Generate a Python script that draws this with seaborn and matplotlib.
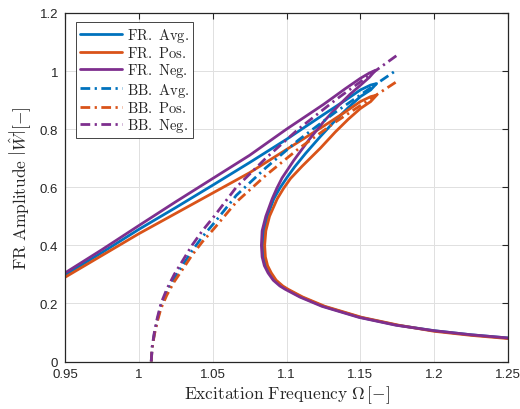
import numpy as np
import pandas as pd
import seaborn as sns
import matplotlib
matplotlib.use("Agg")
import matplotlib.pyplot as plt

# ---------------- data ----------------
# Frequency-response curves: upper branch -> peak -> inner arm -> turning point -> lower branch
fr_avg_x = [0.95, 0.975, 1.0, 1.025, 1.05, 1.075, 1.1, 1.125, 1.14, 1.15, 1.157, 1.161,
            1.157, 1.15, 1.142, 1.133, 1.123, 1.113, 1.1055, 1.1005, 1.0955, 1.0914, 1.087, 1.0848, 1.084,
            1.0845, 1.086, 1.0885, 1.092, 1.0965, 1.1, 1.11, 1.125, 1.15, 1.175, 1.2, 1.225, 1.25]
fr_avg_y = [0.298, 0.375, 0.455, 0.53, 0.607, 0.685, 0.765, 0.85, 0.9, 0.935, 0.952, 0.957,
            0.935, 0.912, 0.875, 0.83, 0.775, 0.717, 0.67, 0.635, 0.597, 0.56, 0.5, 0.45, 0.4,
            0.36, 0.33, 0.305, 0.28, 0.26, 0.249, 0.222, 0.19, 0.152, 0.125, 0.106, 0.092, 0.081]

fr_pos_x = [0.95, 0.975, 1.0, 1.025, 1.05, 1.075, 1.1, 1.125, 1.14, 1.15, 1.157, 1.161,
            1.157, 1.15, 1.142, 1.133, 1.123, 1.1105, 1.1027, 1.098, 1.0937, 1.0885, 1.086, 1.0852,
            1.0857, 1.0872, 1.0897, 1.093, 1.0975, 1.101, 1.111, 1.126, 1.151, 1.176, 1.2, 1.225, 1.25]
fr_pos_y = [0.29, 0.365, 0.44, 0.51, 0.58, 0.65, 0.73, 0.81, 0.86, 0.895, 0.912, 0.917,
            0.895, 0.871, 0.835, 0.79, 0.735, 0.672, 0.63, 0.596, 0.56, 0.5, 0.45, 0.4,
            0.36, 0.33, 0.305, 0.28, 0.26, 0.249, 0.222, 0.19, 0.152, 0.125, 0.104, 0.090, 0.079]

fr_neg_x = [0.95, 0.975, 1.0, 1.025, 1.05, 1.075, 1.1, 1.125, 1.14, 1.15, 1.156, 1.1603,
            1.156, 1.15, 1.143, 1.135, 1.125, 1.115, 1.105, 1.097, 1.0935, 1.0903, 1.086, 1.0835, 1.083,
            1.0835, 1.085, 1.0875, 1.091, 1.0955, 1.099, 1.109, 1.124, 1.149, 1.174, 1.2, 1.225, 1.25]
fr_neg_y = [0.305, 0.385, 0.468, 0.55, 0.63, 0.71, 0.80, 0.885, 0.94, 0.975, 0.993, 1.003,
            0.978, 0.951, 0.92, 0.88, 0.825, 0.762, 0.693, 0.632, 0.597, 0.56, 0.5, 0.45, 0.4,
            0.36, 0.33, 0.305, 0.28, 0.26, 0.249, 0.222, 0.19, 0.152, 0.125, 0.106, 0.092, 0.081]

# Backbone curves
bb_x = [1.0084, 1.009, 1.0105, 1.0125, 1.015, 1.019, 1.024, 1.030, 1.036, 1.043, 1.051,
        1.066, 1.086, 1.108, 1.133, 1.160, 1.175]
bb_neg_y = [0, 0.05, 0.1, 0.15, 0.2, 0.25, 0.3, 0.35, 0.4, 0.45, 0.5,
            0.6, 0.7, 0.8, 0.9, 1.0, 1.055]
bb_avg_y = [0, 0.048, 0.095, 0.143, 0.191, 0.238, 0.286, 0.334, 0.381, 0.429, 0.477,
            0.572, 0.667, 0.762, 0.858, 0.953, 1.005]
bb_pos_y = [0, 0.046, 0.092, 0.137, 0.183, 0.229, 0.275, 0.320, 0.366, 0.412, 0.458,
            0.549, 0.641, 0.732, 0.824, 0.915, 0.965]

labels = ["FR. Avg.", "FR. Pos.", "FR. Neg.", "BB. Avg.", "BB. Pos.", "BB. Neg."]
x_ticks = [0.95, 1.0, 1.05, 1.1, 1.15, 1.2, 1.25]
x_tick_labels = ["0.95", "1", "1.05", "1.1", "1.15", "1.2", "1.25"]
y_ticks = [0, 0.2, 0.4, 0.6, 0.8, 1.0, 1.2]
y_tick_labels = ["0", "0.2", "0.4", "0.6", "0.8", "1", "1.2"]

# ---------------- style ----------------
sns.set_theme(style="white")
plt.rcParams["font.family"] = ["Liberation Sans", "DejaVu Sans"]
plt.rcParams["mathtext.fontset"] = "cm"

blue, orange, purple = "#0072BD", "#D95319", "#7E2F8E"

fig = plt.figure(figsize=(5.2, 4.1), dpi=100)
ax = fig.add_axes([65 / 520, 1 - 362.5 / 410, (508 - 65) / 520, (362.5 - 14) / 410])

curves = [
    (fr_avg_x, fr_avg_y, blue, "-"),
    (fr_pos_x, fr_pos_y, orange, "-"),
    (fr_neg_x, fr_neg_y, purple, "-"),
    (bb_x, bb_avg_y, blue, "-."),
    (bb_x, bb_pos_y, orange, "-."),
    (bb_x, bb_neg_y, purple, "-."),
]
for (xs, ys, col, ls), lab in zip(curves, labels):
    sns.lineplot(x=xs, y=ys, sort=False, estimator=None, color=col, lw=2.0,
                 label=r"$\mathrm{" + lab.replace(" ", r"\ ") + "}$", ax=ax)
    line = ax.get_lines()[-1]
    if ls == "-.":
        line.set_dashes([3.5, 1.6, 0.8, 1.6])
    else:
        line.set_linestyle("-")
    line.set_solid_joinstyle("round")

ax.set_xlim(0.95, 1.25)
ax.set_ylim(0, 1.2)
ax.set_xticks(x_ticks)
ax.set_xticklabels(x_tick_labels)
ax.set_yticks(y_ticks)
ax.set_yticklabels(y_tick_labels)
ax.grid(True, color="#e0e0e0", lw=0.7)
ax.tick_params(direction="in", length=4, width=0.8, colors="#262626", labelsize=9.5,
               top=True, right=True)
ax.tick_params(axis="x", pad=5)
ax.tick_params(axis="y", pad=5)
for s in ax.spines.values():
    s.set_visible(True)
    s.set_color("#262626")
    s.set_linewidth(0.9)

ax.set_xlabel(r"$\mathrm{Excitation\ Frequency}\ \Omega\,[-]$", fontsize=12.5, color="#262626", labelpad=2)
ax.set_ylabel(r"$\mathrm{FR\ Amplitude}\ \left|\hat{W}\right|[-]$", fontsize=12.5, color="#262626", labelpad=5)

leg = ax.legend(loc="upper left", bbox_to_anchor=(0.024, 0.975), fontsize=10.5, frameon=True,
                fancybox=False, edgecolor="#262626", handlelength=2.9, handletextpad=0.3,
                labelspacing=0.08, borderpad=0.3, borderaxespad=0.0)
leg.get_frame().set_linewidth(0.6)
leg.get_frame().set_alpha(1.0)

fig.savefig("out.png", dpi=100)
